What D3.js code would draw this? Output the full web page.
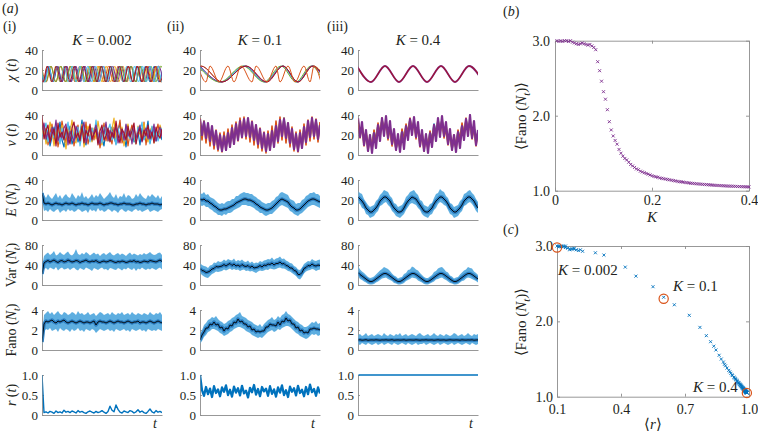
<!DOCTYPE html>
<html><head><meta charset="utf-8">
<script src="https://cdn.jsdelivr.net/npm/d3@7"></script>
<style>
body{margin:0;background:#fff;}
svg{display:block;}
svg text{white-space:pre;font-family:"Liberation Serif","Times New Roman",serif;}
</style></head><body><div id="chart"></div>
<script>
// ---------------- DATA ----------------
const columnK = ["0.002", "0.1", "0.4"];
const rowMax = [40, 40, 40, 80, 4, 1];
const rowTicks = [[0,20,40],[0,20,40],[0,20,40],[0,40,80],[0,2,4],[0,0.5,1]];
const rowTickLabels = [["0","20","40"],["0","20","40"],["0","20","40"],["0","40","80"],["0","2","4"],["0","0.5","1.0"]];
const chiPeak = 24, chiTrough = 8, chiSpan = 60;

// chi(t): times of successive extrema (first = peak), per oscillator
const chiOsc1 = [
 [-1.0,1.2,3.4,5.6,7.8,10.0,12.2,14.4,16.6,18.8,21.0,23.2,25.4,27.6,29.8,32.0,34.2,36.4,38.6,40.8,43.0,45.2,47.4,49.6,51.8,54.0,56.2,58.4,60.6],
 [-0.3,2.1,4.5,6.9,9.3,11.7,14.1,16.5,18.9,21.3,23.7,26.1,28.5,30.9,33.3,35.7,38.1,40.5,42.9,45.3,47.7,50.1,52.5,54.9,57.3,59.7,62.1],
 [-1.5,0.6,2.7,4.8,6.9,9.0,11.1,13.2,15.3,17.4,19.5,21.6,23.7,25.8,27.9,30.0,32.1,34.2,36.3,38.4,40.5,42.6,44.7,46.8,48.9,51.0,53.1,55.2,57.3,59.4,61.5],
 [-1.5,0.8,3.1,5.4,7.7,10.0,12.3,14.6,16.9,19.2,21.5,23.8,26.1,28.4,30.7,33.0,35.3,37.6,39.9,42.2,44.5,46.8,49.1,51.4,53.7,56.0,58.3,60.6],
 [-0.6,1.9,4.4,6.9,9.4,11.9,14.4,16.9,19.4,21.9,24.4,26.9,29.4,31.9,34.4,36.9,39.4,41.9,44.4,46.9,49.4,51.9,54.4,56.9,59.4,61.9],
 [-0.5,1.45,3.4,5.35,7.3,9.25,11.2,13.15,15.1,17.05,19.0,20.95,22.9,24.85,26.8,28.75,30.7,32.65,34.6,36.55,38.5,40.45,42.4,44.35,46.3,48.25,50.2,52.15,54.1,56.05,58.0,59.95,61.9],
 [-1.8,0.45,2.7,4.95,7.2,9.45,11.7,13.95,16.2,18.45,20.7,22.95,25.2,27.45,29.7,31.95,34.2,36.45,38.7,40.95,43.2,45.45,47.7,49.95,52.2,54.45,56.7,58.95,61.2]
];
const chiOsc2 = [
 [-0.5,10.5,22,32.5,41.5,48.5,56.5,63],
 [-21,-10,0.5,11,23,33,41.5,49,56.5,64],
 [-0.2,10.5,22.5,32.5,41,48.5,56,63],
 [-1,10,21.5,32,40.5,48,55.5,62],
 [0,11,23,33,41.5,49,56,63],
 [-21,-10,0.5,11,23,33.5,41.5,49,56.5,63.5],
 [-1,3,5,9.5,14,17,20.5,26,28,33.5,38,40,44,47.5,52,55,57,60.5]
];
const chiOsc3 = [
 [-0.5,6.5,13.5,20.5,27.5,34.5,41.5,48.5,55.5,62.5],
 [-0.5,6.5,13.5,20.5,27.5,34.5,41.5,48.5,55.5,62.5]
];

// v(t) traces
const vTr1 = [
 [30,22,14,25,9,18,28,12,20,33,15,8,24,19,29,11,17,26,13,21,35,16,10,23,27,14,19,31,12,22,17,9,26,20,14,28,18,11,24,32,15,21,8,25,17,29,13,19,23,10,27,16,22,34,12,20,26,14,18,24,15],
 [36,18,27,10,22,31,14,26,8,19,34,23,12,28,16,25,9,21,30,13,24,18,33,11,20,27,15,29,22,7,18,32,14,25,20,11,28,16,23,35,12,19,26,9,22,30,17,13,27,21,15,33,10,24,19,28,14,22,31,17,25],
 [20,28,11,17,33,24,9,21,27,14,30,19,6,25,22,35,15,12,26,20,31,8,18,29,23,13,27,16,34,21,10,24,30,14,19,26,37,12,20,17,28,9,23,31,15,26,18,11,29,22,16,32,20,13,25,28,12,21,17,30,23],
 [18,26,32,13,20,24,17,29,22,11,27,15,20,33,18,25,14,22,28,9,21,30,16,24,13,27,20,35,17,23,12,28,19,25,31,15,22,10,27,18,24,14,30,21,16,26,19,12,28,23,33,15,20,25,11,29,18,24,14,21,27],
 [25,32,16,23,12,28,20,35,14,22,17,27,31,10,24,19,13,29,22,16,26,33,12,20,28,15,23,30,18,11,27,21,33,14,25,18,22,29,12,20,26,15,31,19,24,11,28,17,23,30,13,21,27,16,25,19,31,14,22,28,18],
 [40,16,24,30,13,21,26,9,32,18,23,15,28,20,11,27,33,17,22,14,29,12,25,19,31,16,21,26,10,24,30,15,19,27,13,23,17,34,20,12,26,22,15,29,18,24,32,11,21,27,14,25,19,30,16,23,12,28,20,17,26]
];
const vTr2 = [
 [30,20,34,18,29,15,27,11,22,8,17,5,20,9,22,10,26,14,30,17,33,18,35,21,36,19,31,14,28,11,24,8,19,5,20,7,25,11,30,16,34,20,37,17,31,10,25,6,20,5,21,9,27,13,32,17,36,19,35,16,31],
 [37,15,34,12,31,9,28,6,25,4,22,3,23,5,26,8,30,11,33,14,37,17,38,16,36,13,34,10,30,7,27,4,23,2,24,5,29,9,34,12,38,15,37,12,32,8,28,4,23,3,25,7,31,10,35,14,38,16,36,13,33],
 [31,22,28,19,26,15,22,12,18,9,15,10,16,11,19,14,22,17,26,20,29,23,31,24,30,22,27,18,24,15,21,11,16,9,17,11,21,15,25,19,29,23,30,21,26,16,20,12,16,10,17,12,21,16,25,20,29,24,29,22,27],
 [36,20,33,17,32,14,29,10,24,6,20,4,19,5,22,8,27,11,31,15,34,18,36,19,37,18,33,15,30,11,26,7,22,4,21,5,24,8,29,14,35,19,36,17,32,12,26,6,21,4,22,7,28,13,34,18,37,19,35,16,30]
];
const vTr3 = [
 [35,19,29,12,22,7,17,9,24,15,30,22,35,25,33,18,27,11,20,6,16,10,25,16,29,23,36,24,34,20,28,12,21,7,18,9,23,15,31,22,34,25,35,19,27,13,21,6,17,10,24,16,30,21,35,26,33,18,28,12,22],
 [36,17,30,9,23,4,20,6,25,13,32,20,37,22,35,15,28,9,21,5,18,7,26,14,31,21,37,23,34,16,29,8,22,4,19,7,24,13,30,19,36,21,36,17,27,10,23,5,20,6,25,14,32,20,37,22,35,16,28,9,24],
 [31,22,30,15,24,9,17,6,19,11,26,18,33,24,32,21,29,14,22,8,16,7,20,12,27,19,32,25,31,23,28,15,23,9,17,6,18,11,26,17,31,23,33,22,30,16,22,8,15,7,19,12,25,18,32,24,31,21,28,15,23],
 [37,18,33,10,25,4,20,2,22,7,30,14,37,19,39,17,34,11,26,5,21,3,23,6,29,15,36,20,38,18,33,9,25,4,21,2,22,8,30,14,37,18,39,19,33,11,26,5,20,3,23,7,29,15,36,19,40,17,34,10,25]
];

// E(N_t): mean, upper and lower envelope
const eMean1 = [27,17,16,17,16,15,16,17,16,16,15,16,17,16,16,17,16,15,16,16,17,16,16,15,16,17,16,16,16,17,16,15,16,16,17,17,16,16,15,16,16,17,16,16,16,15,15,16,16,17,16,16,15,16,16,17,16,16,16,15,16];
const eUp1 = [30,25,22,26,23,21,24,27,22,25,21,24,26,23,22,27,24,21,25,23,28,22,24,21,23,26,22,25,23,27,24,21,23,25,28,24,22,26,21,24,23,27,22,25,24,21,22,26,23,27,24,22,21,25,23,26,24,22,25,21,24];
const eLo1 = [20,9,10,8,11,9,8,10,11,7,9,10,8,11,9,10,8,9,11,10,8,9,10,7,11,9,10,8,12,9,10,8,9,11,10,8,10,9,7,10,11,9,8,10,9,8,10,11,9,10,8,9,10,11,8,9,10,9,8,10,11];
const eMean2 = [21,20,21,19,19,17,16,14,13,11,10,10,11,11,12,13,14,15,17,18,19,20,21,21,20,20,19,18,16,15,13,12,11,10,10,11,12,14,16,18,20,21,20,19,18,15,13,12,10,10,11,13,15,17,19,20,21,21,20,19,18];
const eUp2 = [27,26,28,25,26,23,22,21,19,17,16,17,16,18,19,19,21,21,24,24,26,27,28,27,27,26,26,24,23,21,20,18,17,16,17,17,19,20,23,24,27,28,27,26,25,21,20,19,16,17,17,20,21,24,25,27,27,28,26,26,24];
const eLo2 = [15,14,15,13,13,11,10,8,7,5,5,4,6,5,7,7,8,10,11,12,13,15,15,15,14,14,13,12,10,9,7,7,5,4,5,6,6,8,10,12,14,15,14,13,12,9,8,6,5,4,6,7,9,11,13,14,15,15,14,13,12];
const eMean3 = [23,21,19,16,12,10,8,8,10,12,15,19,21,23,23,21,19,15,12,10,8,8,9,12,16,19,21,23,22,21,18,15,12,9,8,8,10,12,16,19,21,23,23,21,19,16,12,10,8,8,10,12,15,19,21,23,23,21,19,15,12];
const eUp3 = [29,27,26,21,18,15,13,14,15,19,21,25,27,30,29,28,24,22,17,16,13,14,15,18,23,25,28,29,30,27,25,20,19,15,14,13,16,17,22,26,27,31,29,28,24,22,17,16,13,14,15,19,21,26,27,29,30,27,25,21,18];
const eLo3 = [17,16,12,11,6,5,2,3,4,7,9,14,15,17,18,15,13,9,7,4,3,2,4,6,10,13,16,17,16,15,12,10,6,4,3,2,5,6,10,12,16,18,17,15,14,10,6,5,2,3,4,7,9,14,15,17,18,16,13,9,7];

// Var(N_t)
const varMean1 = [22,44,47,49,46,48,50,47,45,48,49,46,47,50,48,46,47,49,48,45,47,48,50,47,46,48,47,49,46,45,47,48,46,47,49,48,46,45,47,46,48,47,45,46,48,47,49,46,47,45,46,48,47,46,49,48,47,46,48,50,47];
const varUp1 = [36,58,62,65,60,63,68,59,61,66,62,60,64,67,61,59,63,72,62,60,64,61,66,63,59,62,65,61,63,58,62,64,60,63,66,61,59,62,64,60,63,61,58,62,65,60,63,61,59,62,60,64,61,63,66,62,60,61,64,65,60];
const varLo1 = [12,32,34,30,35,33,31,36,29,33,35,31,32,34,30,33,35,31,29,34,32,30,35,33,31,28,34,32,30,33,35,31,32,29,34,33,31,30,34,32,29,33,31,35,32,30,34,28,33,31,35,32,30,33,31,34,32,30,33,35,31];
const varMean2 = [33,29,28,25,26,28,32,33,37,36,37,38,41,38,41,43,39,42,38,40,37,41,38,37,39,35,38,34,35,36,39,36,40,39,42,41,44,40,43,43,46,42,43,39,38,34,34,29,28,21,21,25,33,35,39,38,42,39,38,40,39];
const varUp2 = [44,40,38,37,34,39,40,45,44,48,46,47,51,48,52,50,49,53,47,50,48,51,47,46,49,44,47,43,45,44,48,46,49,50,52,51,55,50,53,54,57,52,53,49,47,44,43,38,36,31,30,35,42,45,48,47,52,49,48,50,51];
const varLo2 = [24,20,17,15,14,18,22,24,27,26,27,28,31,29,31,33,30,32,30,31,28,30,31,28,29,27,28,26,24,27,29,28,29,31,30,33,32,31,32,34,35,33,33,31,28,27,24,21,18,13,11,16,23,27,29,30,32,31,28,30,31];
const varMean3 = [25,21,18,15,12,9,7,7,9,12,15,18,21,23,23,21,18,15,12,9,7,7,9,12,15,18,21,23,23,21,18,15,12,9,7,7,9,12,15,18,21,23,23,21,18,15,12,9,7,7,9,12,15,18,21,23,23,21,18,15,12];
const varUp3 = [38,31,27,24,20,16,14,15,17,21,25,29,32,36,34,32,28,23,19,17,13,15,16,22,24,30,31,37,35,31,29,24,20,16,14,14,17,20,26,28,33,35,36,32,27,25,19,17,13,15,16,21,25,29,31,36,34,33,27,24,20];
const varLo3 = [18,12,10,7,5,2,1,1,2,5,7,10,13,14,15,12,10,8,4,3,1,1,2,4,8,10,12,15,14,13,9,7,5,2,1,1,3,5,7,11,12,14,15,12,10,7,4,3,1,1,2,5,8,9,13,15,14,12,10,8,5];

// Fano(N_t)
const fMean1 = [0.8,2.6,2.9,2.8,2.9,3.0,2.8,2.7,2.9,2.8,2.9,3.0,2.8,2.7,2.8,2.9,2.8,2.7,2.8,2.9,2.8,2.7,2.8,2.8,2.7,2.8,2.9,2.5,2.8,2.9,2.8,2.8,2.7,2.8,2.9,2.8,2.7,2.8,2.9,2.8,2.8,2.7,2.8,2.9,2.8,2.7,2.8,2.8,2.9,2.7,2.8,2.8,2.7,2.8,2.9,2.8,2.7,2.8,2.9,2.8,2.7];
const fUp1 = [1.2,3.5,3.7,3.9,3.6,3.8,3.5,3.7,3.9,3.6,3.5,3.8,3.7,3.5,3.6,3.8,3.7,3.5,3.9,3.6,3.7,3.5,3.6,3.8,3.5,3.6,3.7,3.4,3.6,3.8,3.7,3.5,3.6,3.7,3.5,3.8,3.6,3.5,3.7,3.6,3.8,3.5,3.6,3.7,3.5,3.8,3.6,3.5,3.7,3.6,3.5,3.7,3.6,3.5,3.8,3.6,3.5,3.7,3.6,3.8,3.5];
const fLo1 = [0.4,1.8,2.1,2.0,2.2,1.9,2.0,2.1,1.8,2.2,2.0,1.9,2.1,2.0,1.8,2.1,1.9,2.0,2.2,1.9,2.0,1.8,2.1,2.0,1.9,2.1,2.0,1.7,1.9,2.1,2.0,1.9,2.0,2.1,1.9,2.0,1.8,2.1,2.0,1.9,2.0,2.1,1.9,2.0,1.8,2.1,2.0,1.9,2.0,2.1,1.9,2.0,1.8,2.1,2.0,1.9,2.0,1.9,2.1,2.0,1.9];
const fMean2 = [1.0,1.5,1.8,2.2,2.2,2.6,2.5,2.8,2.5,2.6,2.2,2.3,1.9,2.2,2.1,2.5,2.4,2.8,2.7,3.1,2.8,2.9,2.6,2.6,2.3,2.4,2.0,2.1,1.8,1.9,1.8,1.9,1.9,2.3,2.3,2.6,2.5,2.5,2.4,2.8,2.5,2.9,2.8,3.2,2.9,3.0,2.6,2.6,2.2,2.3,1.9,2.0,1.7,1.8,1.7,2.1,2.1,2.2,2.1,2.1,2.0];
const fUp2 = [1.6,2.0,2.5,2.7,3.0,3.1,3.3,3.2,3.4,3.1,2.9,2.8,2.6,2.7,2.9,3.0,3.2,3.3,3.5,3.6,3.8,3.4,3.3,3.2,3.0,2.9,2.8,2.6,2.5,2.4,2.6,2.3,2.6,2.8,3.0,3.1,3.3,3.0,3.1,3.4,3.2,3.5,3.6,3.9,3.6,3.5,3.3,3.1,2.9,2.8,2.6,2.5,2.3,2.3,2.4,2.6,2.8,2.7,2.9,2.6,2.7];
const fLo2 = [0.6,0.9,1.3,1.5,1.8,1.9,2.1,2.1,2.0,1.9,1.7,1.6,1.4,1.5,1.6,1.8,1.9,2.1,2.2,2.3,2.3,2.2,2.1,1.9,1.8,1.7,1.5,1.4,1.3,1.2,1.3,1.2,1.4,1.6,1.8,1.9,2.0,1.8,1.9,2.1,2.0,2.2,2.3,2.4,2.4,2.3,2.1,1.9,1.7,1.6,1.4,1.3,1.2,1.1,1.2,1.4,1.6,1.5,1.6,1.4,1.5];
const fMean3 = [1.0,1.02,0.98,1.0,1.03,0.97,1.0,1.01,0.99,1.02,1.0,0.98,1.01,1.0,1.02,0.99,1.0,1.03,0.98,1.0,1.01,0.99,1.0,1.02,0.98,1.0,1.01,1.0,0.99,1.02,1.0,0.98,1.01,1.0,1.02,0.99,1.0,1.01,0.98,1.0,1.02,0.99,1.0,1.01,0.98,1.0,1.02,1.0,0.99,1.01,1.0,0.98,1.02,1.0,0.99,1.01,1.0,1.02,0.98,1.0,1.01];
const fUp3 = [1.5,1.6,1.4,1.5,1.7,1.4,1.5,1.6,1.4,1.5,1.6,1.5,1.4,1.7,1.5,1.4,1.6,1.5,1.4,1.6,1.5,1.7,1.4,1.5,1.6,1.4,1.5,1.6,1.5,1.4,1.6,1.7,1.5,1.4,1.5,1.6,1.4,1.5,1.7,1.5,1.4,1.6,1.5,1.4,1.6,1.5,1.4,1.5,1.7,1.6,1.4,1.5,1.6,1.4,1.5,1.7,1.5,1.4,1.6,1.5,1.6];
const fLo3 = [0.6,0.5,0.7,0.6,0.5,0.7,0.6,0.5,0.6,0.7,0.5,0.6,0.7,0.5,0.6,0.7,0.6,0.5,0.7,0.6,0.5,0.6,0.7,0.6,0.5,0.7,0.6,0.5,0.6,0.7,0.5,0.6,0.6,0.7,0.5,0.6,0.7,0.6,0.5,0.6,0.7,0.5,0.6,0.7,0.6,0.5,0.6,0.7,0.5,0.6,0.7,0.6,0.5,0.6,0.7,0.6,0.5,0.7,0.6,0.5,0.6];

// r(t)
const rT1 = [1.0,0.06,0.08,0.05,0.09,0.07,0.04,0.10,0.06,0.08,0.05,0.12,0.07,0.09,0.06,0.10,0.08,0.05,0.11,0.07,0.09,0.06,0.04,0.08,0.10,0.07,0.05,0.09,0.06,0.08,0.11,0.07,0.04,0.09,0.22,0.12,0.08,0.25,0.14,0.07,0.05,0.10,0.08,0.06,0.11,0.09,0.05,0.08,0.13,0.07,0.10,0.06,0.04,0.09,0.15,0.08,0.05,0.11,0.07,0.09,0.06];
const rT2 = [1.0,0.62,0.48,0.70,0.52,0.66,0.45,0.72,0.55,0.64,0.47,0.69,0.58,0.74,0.50,0.63,0.46,0.71,0.56,0.67,0.49,0.73,0.54,0.61,0.44,0.68,0.57,0.75,0.51,0.65,0.47,0.70,0.59,0.66,0.48,0.72,0.53,0.64,0.46,0.69,0.56,0.74,0.50,0.62,0.45,0.71,0.58,0.67,0.49,0.73,0.55,0.63,0.47,0.70,0.52,0.76,0.57,0.65,0.48,0.69,0.54];
const rT3 = [1.0,1.0,1.0,1.0,1.0];

// panel (b): <Fano(N_t)> vs K  (K sweep step 0.004)
const kStep = 0.004;
const fanoK = [
 3.00,2.99,3.00,2.99,3.00,3.00,2.99,3.00,2.98,2.97,
 2.96,2.95,2.96,2.97,2.96,2.95,2.94,2.95,2.93,2.91,
 2.88,2.72,2.60,2.46,2.32,2.22,2.08,1.92,1.81,1.73,
 1.67,1.62,1.55,1.50,1.46,1.43,1.41,1.38,1.35,1.33,
 1.31,1.29,1.28,1.26,1.25,1.24,1.23,1.22,1.21,1.20,
 1.19,1.185,1.18,1.17,1.165,1.16,1.155,1.15,1.145,1.14,
 1.135,1.13,1.125,1.12,1.118,1.115,1.11,1.107,1.104,1.10,
 1.098,1.095,1.092,1.09,1.088,1.085,1.083,1.081,1.079,1.077,
 1.075,1.073,1.071,1.07,1.068,1.067,1.065,1.064,1.062,1.061,
 1.06,1.059,1.058,1.056,1.055,1.054,1.053,1.052,1.051,1.05];
// panel (c): <r> for the same sweep
const rMeanK = [
 0.10,0.11,0.11,0.12,0.12,0.13,0.13,0.14,0.14,0.15,
 0.16,0.16,0.17,0.18,0.18,0.19,0.20,0.21,0.22,0.28,
 0.32,0.42,0.47,0.55,0.60,0.65,0.72,0.77,0.80,0.82,
 0.835,0.845,0.86,0.87,0.88,0.885,0.89,0.897,0.905,0.91,
 0.915,0.92,0.923,0.929,0.932,0.935,0.938,0.941,0.944,0.946,
 0.949,0.951,0.952,0.955,0.957,0.958,0.96,0.961,0.962,0.964,
 0.965,0.967,0.968,0.97,0.97,0.971,0.973,0.973,0.974,0.975,
 0.976,0.977,0.978,0.978,0.979,0.98,0.98,0.981,0.982,0.982,
 0.983,0.983,0.984,0.984,0.985,0.985,0.986,0.986,0.987,0.987,
 0.987,0.988,0.988,0.988,0.989,0.989,0.989,0.99,0.99,0.99];
const markR = [0.1, 0.6, 0.99];
const markF = [2.98, 2.3, 1.05];
const markLabels = ["0.002", "0.1", "0.4"];

// ---------------- STYLE ----------------
const W = 758, H = 435;
const FONT = '"Liberation Serif","Times New Roman",serif';
const TXT = '#231f20', AX = '#8c8c8c';
const C = {blue:'#0072BD', orange:'#D95319', yellow:'#EDB120', purple:'#7E2F8E', green:'#77AC30', cyan:'#4DBEEE', red:'#A2142F'};
const chiColors1 = [C.blue, C.orange, C.yellow, C.purple, C.green, C.cyan, C.red];
const chiColors2 = [C.blue, C.yellow, C.cyan, C.green, C.purple, C.red, C.orange];
const chiColors3 = [C.purple, C.red];
const vColors1 = [C.blue, C.orange, C.yellow, C.cyan, C.purple, C.red];
const vColors23 = [C.blue, C.orange, C.yellow, C.purple];
const vWidths23 = [1.6, 1.6, 1.6, 2.2];
const BAND_LIGHT = '#5eaee0', BAND_CORE = '#2a7dc2';

const colX = [42, 200, 358], colW = 120;
const rowY = [50, 115, 180, 245, 310, 375], rowH = 40;

const svg = d3.select('#chart').append('svg').attr('width', W).attr('height', H)
  .attr('font-family', FONT).style('background', '#fff');
const defs = svg.append('defs');

function rich(sel, parts, size) {
  let sub = false;
  parts.forEach(([s, st]) => {
    const ts = sel.append('tspan').text(s);
    if (st === 'i' || st === 's') ts.attr('font-style', 'italic');
    if (st === 's') { ts.attr('font-size', size * 0.72).attr('dy', size * 0.28); sub = true; }
    else if (sub) { ts.attr('dy', -size * 0.28); sub = false; }
  });
  return sel;
}
function styleAxis(ax, size) {
  ax.attr('font-family', FONT).attr('font-size', size).attr('color', TXT);
  ax.select('.domain').attr('stroke', AX).attr('stroke-width', 0.9);
  ax.selectAll('.tick line').attr('stroke', AX).attr('stroke-width', 0.9);
  return ax;
}

function timePanel(c, r) {
  const g = svg.append('g').attr('transform', `translate(${colX[c]},${rowY[r]})`);
  const y = d3.scaleLinear().domain([0, rowMax[r]]).range([rowH, 0]);
  styleAxis(g.append('g').call(d3.axisLeft(y).tickValues(rowTicks[r])
    .tickFormat((d, i) => rowTickLabels[r][i]).tickSizeInner(-2).tickSizeOuter(0).tickPadding(4)), 13);
  styleAxis(g.append('g').attr('transform', `translate(0,${rowH})`)
    .call(d3.axisBottom(d3.scaleLinear().range([0, colW])).tickValues([]).tickSizeOuter(0)), 13);
  const id = `clip-${c}-${r}`;
  defs.append('clipPath').attr('id', id).append('rect')
    .attr('x', 0.5).attr('y', -1).attr('width', colW - 0.5).attr('height', rowH + 1);
  const plot = g.append('g').attr('clip-path', `url(#${id})`);
  return {plot, y};
}
function trace(p, vals, color, w) {
  const x = d3.scaleLinear().domain([0, vals.length - 1]).range([0, colW]);
  p.plot.append('path').attr('d', d3.line().x((d, i) => x(i)).y(d => p.y(d))(vals))
    .attr('fill', 'none').attr('stroke', color).attr('stroke-width', w).attr('stroke-linejoin', 'round');
}
function band(p, mean, up, lo) {
  const x = d3.scaleLinear().domain([0, up.length - 1]).range([0, colW]);
  p.plot.append('path').attr('d', d3.area().x((d, i) => x(i)).y0((d, i) => p.y(lo[i])).y1(d => p.y(d))(up))
    .attr('fill', BAND_LIGHT);
  trace(p, mean, BAND_CORE, 3.5);
  trace(p, mean, '#000', 0.9);
}
function chi(p, times, color, w) {
  const x = d3.scaleLinear().domain([0, chiSpan]).range([0, colW]);
  const pts = times.map((t, k) => [t, k % 2 === 0 ? chiPeak : chiTrough]);
  p.plot.append('path').attr('d', d3.line().x(d => x(d[0])).y(d => p.y(d[1])).curve(d3.curveMonotoneX)(pts))
    .attr('fill', 'none').attr('stroke', color).attr('stroke-width', w);
}

// ---------- column (i) ----------
let p = timePanel(0, 0); chiOsc1.forEach((t, i) => chi(p, t, chiColors1[i], 1));
p = timePanel(0, 1); vTr1.forEach((v, i) => trace(p, v, vColors1[i], 1.2));
band(timePanel(0, 2), eMean1, eUp1, eLo1);
band(timePanel(0, 3), varMean1, varUp1, varLo1);
band(timePanel(0, 4), fMean1, fUp1, fLo1);
trace(timePanel(0, 5), rT1, C.blue, 1.4);
// ---------- column (ii) ----------
p = timePanel(1, 0); chiOsc2.forEach((t, i) => chi(p, t, chiColors2[i], 1));
p = timePanel(1, 1); vTr2.forEach((v, i) => trace(p, v, vColors23[i], vWidths23[i]));
band(timePanel(1, 2), eMean2, eUp2, eLo2);
band(timePanel(1, 3), varMean2, varUp2, varLo2);
band(timePanel(1, 4), fMean2, fUp2, fLo2);
trace(timePanel(1, 5), rT2, C.blue, 2.3);
// ---------- column (iii) ----------
p = timePanel(2, 0); chiOsc3.forEach((t, i) => chi(p, t, chiColors3[i], i === 0 ? 1.8 : 1.2));
p = timePanel(2, 1); vTr3.forEach((v, i) => trace(p, v, vColors23[i], vWidths23[i]));
band(timePanel(2, 2), eMean3, eUp3, eLo3);
band(timePanel(2, 3), varMean3, varUp3, varLo3);
band(timePanel(2, 4), fMean3, fUp3, fLo3);
trace(timePanel(2, 5), rT3, C.blue, 1.6);

// row labels
const rowLabels = [
  [['χ','i'],[' (',''],['t','i'],[')','']],
  [['v','i'],[' (',''],['t','i'],[')','']],
  [['E','i'],[' (',''],['N','i'],['t','s'],[')','']],
  [['Var (',''],['N','i'],['t','s'],[')','']],
  [['Fano (',''],['N','i'],['t','s'],[')','']],
  [['r','i'],[' (',''],['t','i'],[')','']]
];
rowLabels.forEach((parts, r) => {
  const cy = rowY[r] + rowH / 2;
  rich(svg.append('text').attr('x', 16).attr('y', cy).attr('text-anchor', 'middle')
    .attr('transform', `rotate(-90,16,${cy})`).attr('font-size', 14).attr('fill', TXT), parts, 14);
});
// column titles, t labels
columnK.forEach((k, c) => {
  rich(svg.append('text').attr('x', colX[c] + colW / 2).attr('y', 45).attr('text-anchor', 'middle')
    .attr('font-size', 15).attr('fill', TXT), [['K','i'],[' = ' + k,'']], 15);
  svg.append('text').attr('x', colX[c] + colW - 7).attr('y', 428).attr('text-anchor', 'middle')
    .attr('font-size', 14).attr('font-style', 'italic').attr('fill', TXT).text('t');
});
[['i', 3], ['ii', 167], ['iii', 327]].forEach(([s, x]) =>
  svg.append('text').attr('x', x).attr('y', 31).attr('font-size', 14).attr('fill', TXT).text(`(${s})`));
[['a', 2, 13], ['b', 503, 16], ['c', 503, 234]].forEach(([s, x, y]) =>
  rich(svg.append('text').attr('x', x).attr('y', y).attr('font-size', 14).attr('fill', TXT),
    [['(',''],[s,'i'],[')','']], 14));

// ---------- panels (b) and (c) ----------
function boxPanel(o) {
  const x = d3.scaleLinear().domain(o.xDom).range([o.x0, o.x1]);
  const y = d3.scaleLinear().domain([1, 3]).range([o.y1, o.y0]);
  const g = svg.append('g');
  const yT = [1, 2, 3];
  styleAxis(g.append('g').attr('transform', `translate(${o.x0},0)`).call(d3.axisLeft(y).tickValues(yT)
    .tickFormat(d3.format('.1f')).tickSizeInner(-3).tickSizeOuter(0).tickPadding(o.yPad)), 14);
  styleAxis(g.append('g').attr('transform', `translate(${o.x1},0)`).call(d3.axisRight(y).tickValues(yT)
    .tickFormat('').tickSizeInner(-3).tickSizeOuter(0)), 14);
  styleAxis(g.append('g').attr('transform', `translate(0,${o.y1})`).call(d3.axisBottom(x).tickValues(o.xT)
    .tickFormat((d, i) => o.xL[i]).tickSizeInner(-3).tickSizeOuter(0).tickPadding(o.xPad)), 14);
  styleAxis(g.append('g').attr('transform', `translate(0,${o.y0})`).call(d3.axisTop(x).tickValues(o.xT)
    .tickFormat('').tickSizeInner(-3).tickSizeOuter(0)), 14);
  return {g, x, y};
}
const cross = 'M-1.5,-1.5L1.5,1.5M-1.5,1.5L1.5,-1.5';

const pb = boxPanel({x0: 555, x1: 749, y0: 40.7, y1: 190.7, xDom: [0, 0.4],
  xT: [0, 0.2, 0.4], xL: ['0', '0.2', '0.4'], yPad: 5, xPad: 4});
pb.g.append('g').selectAll('path').data(fanoK).join('path')
  .attr('transform', (d, i) => `translate(${pb.x((i + 1) * kStep)},${pb.y(d)})`)
  .attr('d', cross).attr('stroke', C.purple).attr('stroke-width', 0.9).attr('fill', 'none');
rich(svg.append('text').attr('x', 652).attr('y', 222).attr('text-anchor', 'middle').attr('font-size', 15)
  .attr('fill', TXT), [['K','i']], 15);
rich(svg.append('text').attr('x', 526).attr('y', 116).attr('text-anchor', 'middle').attr('font-size', 15)
  .attr('transform', 'rotate(-90,526,116)').attr('fill', TXT),
  [['⟨Fano (',''],['N','i'],['t','s'],[')⟩','']], 15);

const pc = boxPanel({x0: 557, x1: 749, y0: 246, y1: 396.7, xDom: [0.1, 1.0],
  xT: [0.1, 0.4, 0.7, 1.0], xL: ['0.1', '0.4', '0.7', '1.0'], yPad: 4, xPad: 7});
pc.g.append('g').selectAll('path').data(fanoK).join('path')
  .attr('transform', (d, i) => `translate(${pc.x(rMeanK[i])},${pc.y(d)})`)
  .attr('d', cross).attr('stroke', C.blue).attr('stroke-width', 0.9).attr('fill', 'none');
pc.g.append('g').selectAll('circle').data(markR).join('circle')
  .attr('cx', d => pc.x(d)).attr('cy', (d, i) => pc.y(markF[i])).attr('r', 4.6)
  .attr('fill', 'none').attr('stroke', C.orange).attr('stroke-width', 1.2);
[[558, 275], [673, 291], [693, 392]].forEach(([x, y], i) =>
  rich(svg.append('text').attr('x', x).attr('y', y).attr('font-size', 15).attr('fill', TXT),
    [['K','i'],[' = ' + markLabels[i],'']], 15));
rich(svg.append('text').attr('x', 653).attr('y', 429).attr('text-anchor', 'middle').attr('font-size', 15)
  .attr('fill', TXT), [['⟨',''],['r','i'],['⟩','']], 15);
rich(svg.append('text').attr('x', 526).attr('y', 322).attr('text-anchor', 'middle').attr('font-size', 15)
  .attr('transform', 'rotate(-90,526,322)').attr('fill', TXT),
  [['⟨Fano (',''],['N','i'],['t','s'],[')⟩','']], 15);
</script></body></html>
